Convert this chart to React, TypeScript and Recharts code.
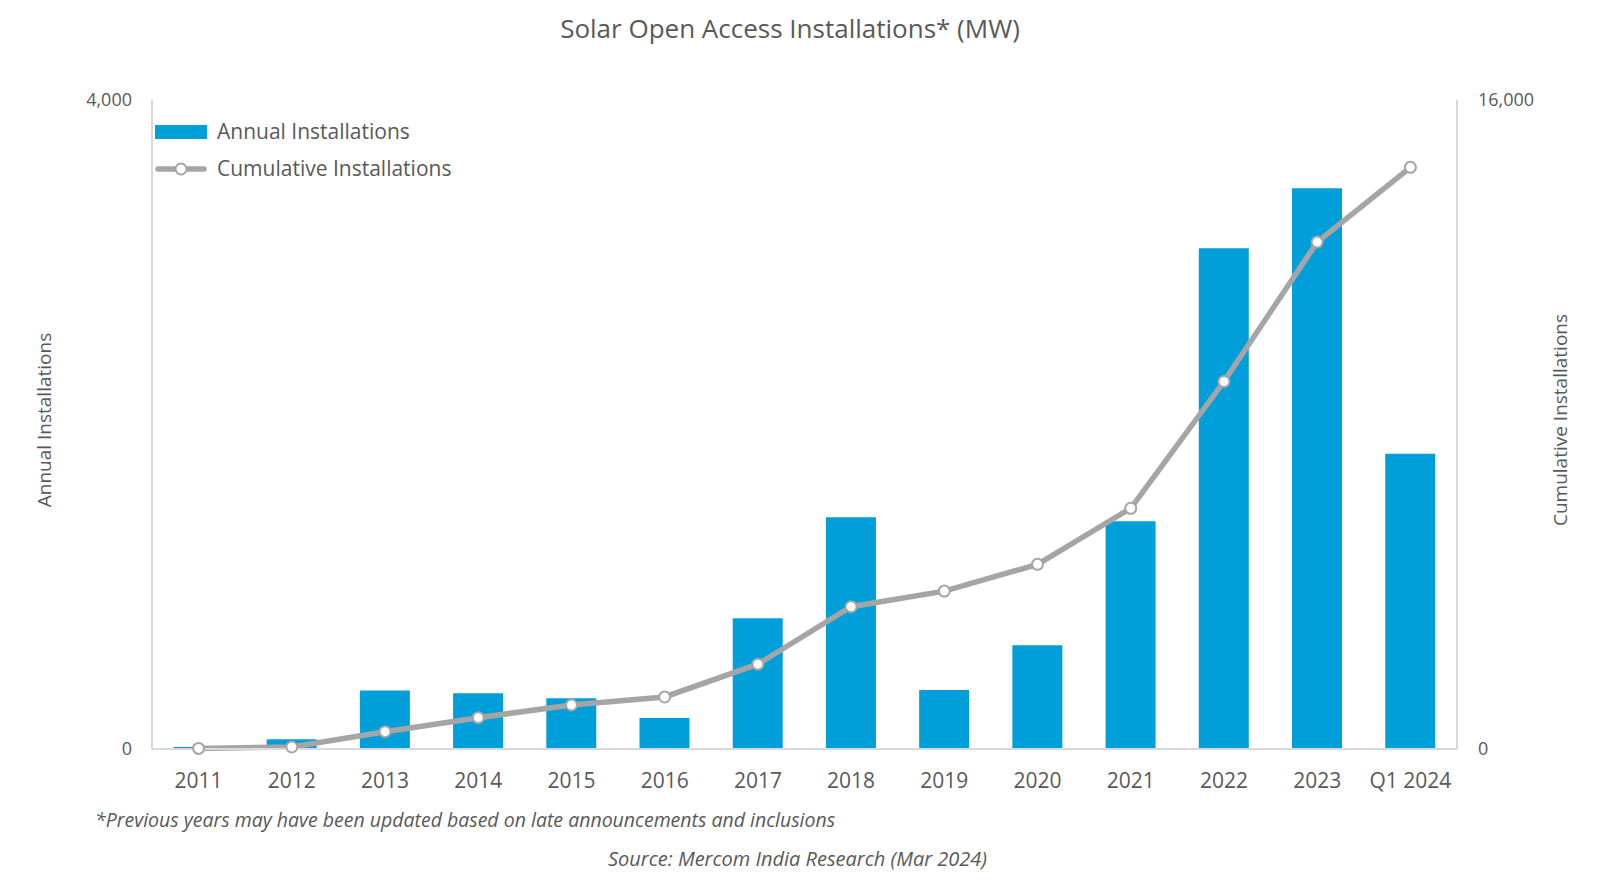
import {
  ComposedChart,
  Bar,
  Line,
  XAxis,
  YAxis,
} from 'recharts';

const years = ['2011', '2012', '2013', '2014', '2015', '2016', '2017', '2018', '2019', '2020', '2021', '2022', '2023', 'Q1 2024'];
const annual = [12, 60, 360, 344, 313, 191, 806, 1429, 364, 639, 1404, 3086, 3456, 1820];
const cumulative = [15, 50, 427, 772, 1085, 1283, 2092, 3508, 3893, 4552, 5934, 9060, 12497, 14340];
const leftTicks = [0, 4000];
const rightTicks = [0, 16000];

const BLUE = '#009FDA';
const GREY_LINE = '#A5A5A5';
const TEXT = '#595959';
const AXIS = '#D9D9D9';
const FONT = '"Open Sans", sans-serif';

const data = years.map((year, i) => ({
  year,
  annual: annual[i],
  cumulative: cumulative[i],
}));

const fmt = (v: number) => v.toLocaleString('en-US');

// legend drawn as an overlay, Recharts' own Legend would reserve space below the plot
function ChartLegend() {
  return (
    <svg width={380} height={80} style={{ position: 'absolute', left: 155, top: 115, fontFamily: FONT }}>
      <rect x={0} y={10} width={52} height={14} fill={BLUE} />
      <text x={62} y={17} dy="0.35em" fontSize={21} fill={TEXT}>Annual Installations</text>
      <line x1={3} y1={54} x2={49} y2={54} stroke={GREY_LINE} strokeWidth={5.5} strokeLinecap="round" />
      <circle cx={26} cy={54} r={5.5} fill="#fff" stroke={GREY_LINE} strokeWidth={2} />
      <text x={62} y={54} dy="0.35em" fontSize={21} fill={TEXT}>Cumulative Installations</text>
    </svg>
  );
}

export default function App() {
  return (
    <div style={{ position: 'absolute', left: 0, top: 0, width: 1617, height: 895, background: '#fff', fontFamily: FONT }}>
      <div style={{ position: 'absolute', left: 0, width: 1580, top: 10, textAlign: 'center', fontSize: 26, color: TEXT }}>
        Solar Open Access Installations* (MW)
      </div>
      <ComposedChart
        width={1617}
        height={895}
        data={data}
        margin={{ top: 100, right: 100, bottom: 106, left: 92 }}
        barCategoryGap="23%"
      >
        <XAxis
          dataKey="year"
          height={40}
          tickLine={false}
          tickSize={0}
          tickMargin={24}
          axisLine={{ stroke: AXIS, strokeWidth: 2 }}
          tick={{ fontSize: 21, fill: TEXT, fontFamily: FONT }}
          interval={0}
        />
        <YAxis
          yAxisId="left"
          width={60}
          domain={[0, 4000]}
          ticks={leftTicks}
          tickFormatter={fmt}
          tickLine={false}
          tickSize={0}
          tickMargin={20}
          axisLine={{ stroke: AXIS, strokeWidth: 2 }}
          tick={{ fontSize: 18, fill: TEXT, fontFamily: FONT }}
        />
        <YAxis
          yAxisId="right"
          orientation="right"
          width={60}
          domain={[0, 16000]}
          ticks={rightTicks}
          tickFormatter={fmt}
          tickLine={false}
          tickSize={0}
          tickMargin={21}
          axisLine={{ stroke: AXIS, strokeWidth: 2 }}
          tick={{ fontSize: 18, fill: TEXT, fontFamily: FONT }}
        />
        <Bar yAxisId="left" dataKey="annual" name="Annual Installations" fill={BLUE} isAnimationActive={false} />
        <Line
          yAxisId="right"
          dataKey="cumulative"
          name="Cumulative Installations"
          stroke={GREY_LINE}
          strokeWidth={5.5}
          dot={{ r: 5.5, fill: '#fff', stroke: GREY_LINE, strokeWidth: 2 }}
          activeDot={false}
          isAnimationActive={false}
        />
      </ComposedChart>
      <ChartLegend />
      <div style={{ position: 'absolute', left: 44, top: 420, transform: 'translate(-50%, -50%) rotate(-90deg)', fontSize: 19, color: TEXT, whiteSpace: 'nowrap' }}>
        Annual Installations
      </div>
      <div style={{ position: 'absolute', left: 1560, top: 420, transform: 'translate(-50%, -50%) rotate(-90deg)', fontSize: 19, color: TEXT, whiteSpace: 'nowrap' }}>
        Cumulative Installations
      </div>
      <div style={{ position: 'absolute', left: 95, top: 806, fontSize: 19.5, fontStyle: 'italic', color: TEXT, whiteSpace: 'nowrap' }}>
        *Previous years may have been updated based on late announcements and inclusions
      </div>
      <div style={{ position: 'absolute', left: 0, width: 1595, top: 845, textAlign: 'center', fontSize: 20, fontStyle: 'italic', color: TEXT, whiteSpace: 'nowrap' }}>
        Source: Mercom India Research (Mar 2024)
      </div>
    </div>
  );
}
